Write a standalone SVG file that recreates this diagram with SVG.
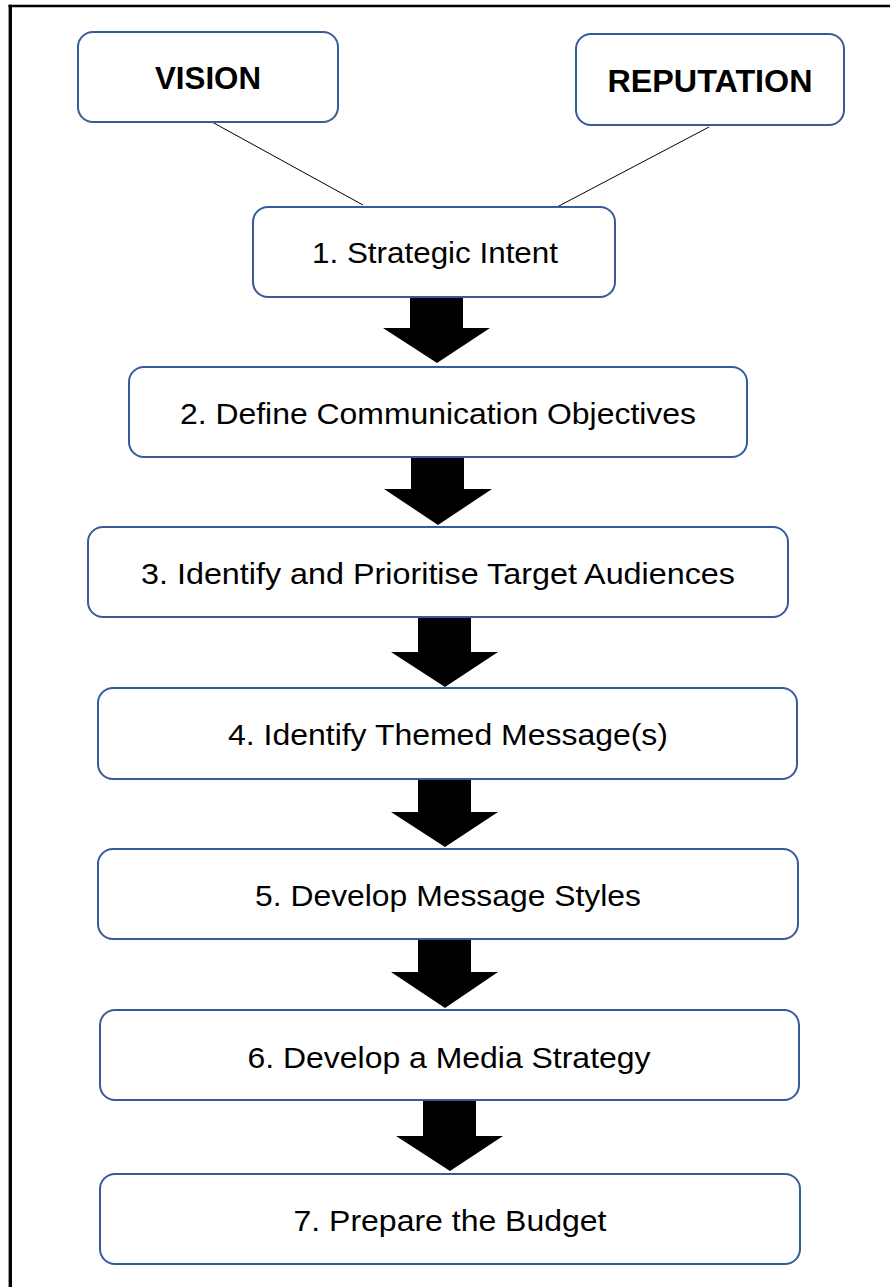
<svg xmlns="http://www.w3.org/2000/svg" width="890" height="1287" viewBox="0 0 890 1287">
  <style>
    .box { fill: #ffffff; stroke: #365a9a; stroke-width: 2; }
    .lbl { font-family: "Liberation Sans", Arial, sans-serif; font-size: 30px; fill: #000; text-anchor: middle; }
    .bold { font-weight: bold; font-size: 31px; }
    .arrow { fill: #000; }
    .link { stroke: #000; stroke-width: 1; fill: none; }
    .frame { stroke: #000; fill: none; }
  </style>
  <rect x="0" y="0" width="890" height="1287" fill="#ffffff"/>
  <g id="frame">
    <line class="frame" x1="10.3" y1="4.7" x2="10.3" y2="1287" stroke-width="3.4"/>
    <line class="frame" x1="8.6" y1="6" x2="890" y2="6" stroke-width="2.6"/>
  </g>
  <g id="connectors">
    <line class="link" x1="212" y1="122" x2="363" y2="205"/>
    <line class="link" x1="709" y1="127" x2="557" y2="207"/>
    <polygon class="arrow" points="410,297 463,297 463,328 490,328 437,363 383,328 410,328"/>
    <polygon class="arrow" points="411,457 464,457 464,489 492,489 438,525 384,489 411,489"/>
    <polygon class="arrow" points="418,617 471,617 471,652 498,652 445,687 391,652 418,652"/>
    <polygon class="arrow" points="418,779 471,779 471,812 498,812 445,847 391,812 418,812"/>
    <polygon class="arrow" points="418,939 471,939 471,972 498,972 445,1008 391,972 418,972"/>
    <polygon class="arrow" points="423,1100 476,1100 476,1136 503,1136 450,1171 396,1136 423,1136"/>
  </g>
  <g id="vision">
    <rect class="box" x="78" y="32" width="260" height="90" rx="15" ry="15"/>
    <text class="lbl bold" x="208" y="89" textLength="106" lengthAdjust="spacingAndGlyphs">VISION</text>
  </g>
  <g id="reputation">
    <rect class="box" x="576" y="34" width="268" height="91" rx="15" ry="15"/>
    <text class="lbl bold" x="710" y="92" textLength="205" lengthAdjust="spacingAndGlyphs">REPUTATION</text>
  </g>
  <g id="step1">
    <rect class="box" x="253" y="207" width="362" height="90" rx="15" ry="15"/>
    <text class="lbl" x="435" y="263" textLength="246" lengthAdjust="spacingAndGlyphs">1. Strategic Intent</text>
  </g>
  <g id="step2">
    <rect class="box" x="129" y="367" width="618" height="90" rx="15" ry="15"/>
    <text class="lbl" x="438" y="424" textLength="516" lengthAdjust="spacingAndGlyphs">2. Define Communication Objectives</text>
  </g>
  <g id="step3">
    <rect class="box" x="88" y="527" width="700" height="90" rx="15" ry="15"/>
    <text class="lbl" x="438" y="584" textLength="594" lengthAdjust="spacingAndGlyphs">3. Identify and Prioritise Target Audiences</text>
  </g>
  <g id="step4">
    <rect class="box" x="98" y="688" width="699" height="91" rx="15" ry="15"/>
    <text class="lbl" x="448" y="745" textLength="440" lengthAdjust="spacingAndGlyphs">4. Identify Themed Message(s)</text>
  </g>
  <g id="step5">
    <rect class="box" x="98" y="849" width="700" height="90" rx="15" ry="15"/>
    <text class="lbl" x="448" y="906" textLength="386" lengthAdjust="spacingAndGlyphs">5. Develop Message Styles</text>
  </g>
  <g id="step6">
    <rect class="box" x="100" y="1010" width="699" height="90" rx="15" ry="15"/>
    <text class="lbl" x="449" y="1068" textLength="403" lengthAdjust="spacingAndGlyphs">6. Develop a Media Strategy</text>
  </g>
  <g id="step7">
    <rect class="box" x="100" y="1174" width="700" height="90" rx="15" ry="15"/>
    <text class="lbl" x="450" y="1231" textLength="313" lengthAdjust="spacingAndGlyphs">7. Prepare the Budget</text>
  </g>
</svg>
